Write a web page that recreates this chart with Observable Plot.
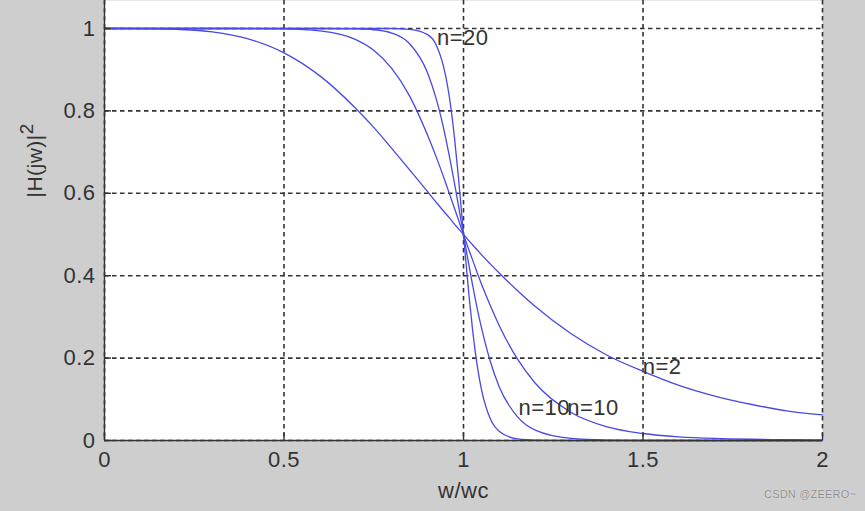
<!DOCTYPE html>
<html>
<head>
<meta charset="utf-8">
<script src="https://cdn.jsdelivr.net/npm/d3@7"></script>
<script src="https://cdn.jsdelivr.net/npm/@observablehq/plot@0.6"></script>
<style>
  html, body { margin: 0; padding: 0; background: #cecece; }
  #wrap { position: relative; width: 865px; height: 511px; overflow: hidden; }
  #wm { position: absolute; left: 764px; top: 488px; font: 11px "Liberation Sans", Arial, sans-serif;
        color: #8c8c8c; text-shadow: 0 0 1px #fff; letter-spacing: 0.2px; }
  svg text { letter-spacing: 0.5px; }
</style>
</head>
<body>
<div id="wrap"><div id="wm">CSDN @ZEERO~</div></div>
<script>
// w/wc sample positions
const xs  = [0, .1, .2, .3, .4, .5, .6, .7, .75, .8, .85, .9, .925, .95, .96, .975, .985, .99, 1, 1.01, 1.015, 1.025, 1.04, 1.05, 1.075, 1.1, 1.15, 1.2, 1.3, 1.4, 1.5, 1.6, 1.7, 1.8, 1.9, 2];
// |H(jw)|^2
const n2  = [1, .9999, .998, .992, .975, .941, .885, .806, .760, .709, .657, .604, .577, .551, .541, .525, .515, .510, .500, .490, .485, .475, .461, .451, .428, .406, .364, .325, .259, .207, .168, .134, .108, .088, .072, .062];
const n5  = [1, 1, 1, 1, .9999, .999, .994, .973, .947, .903, .836, .741, .686, .626, .601, .563, .538, .525, .500, .475, .463, .439, .403, .380, .327, .278, .198, .139, .068, .033, .017, .009, .005, .003, .002, .001];
const n10 = [1, 1, 1, 1, 1, 1, 1, .999, .997, .989, .963, .892, .826, .736, .693, .624, .575, .550, .500, .450, .426, .379, .313, .274, .191, .129, .058, .025, .005, .001, 0, 0, 0, 0, 0, 0];
const n20 = [1, 1, 1, 1, 1, 1, 1, 1, 1, 1, .998, .985, .958, .886, .837, .734, .647, .599, .500, .402, .355, .271, .172, .124, .052, .022, .004, .001, 0, 0, 0, 0, 0, 0, 0, 0];

const xTicks = [0, 0.5, 1, 1.5, 2];
const yTicks = [0, 0.2, 0.4, 0.6, 0.8, 1];

const labelText = ["n=20", "n=2", "n=10", "n=10"];
const labelX = [0.926, 1.499, 1.153, 1.289];
const labelY = [0.977, 0.178, 0.080, 0.080];

const series = {n2, n5, n10, n20};
const table = [];
for (const [name, vals] of Object.entries(series)) {
  xs.forEach((x, i) => table.push({n: name, x, y: vals[i]}));
}
const labels = labelText.map((t, i) => ({t, x: labelX[i], y: labelY[i]}));

const FONT = '"Liberation Sans", Arial, Helvetica, sans-serif';
const INK = "#333";
const BLUE = "#4848e4";

const chart = Plot.plot({
  width: 865,
  height: 511,
  marginLeft: 104,
  marginRight: 43,
  marginTop: 0,
  marginBottom: 71,
  style: {background: "#cecece", fontFamily: FONT, fontSize: "22px", color: INK},
  x: {domain: [0, 2], ticks: xTicks, tickFormat: d => String(d), tickSize: 0, tickPadding: 11, label: null},
  y: {domain: [0, 440 / 412], ticks: yTicks, tickFormat: d => String(d), tickSize: 0, tickPadding: 9, label: null},
  marks: [
    Plot.frame({fill: "white", stroke: "none"}),
    Plot.ruleX(xTicks, {x: d => d, stroke: "#333", strokeWidth: 1.6, strokeDasharray: "4.5,3.5"}),
    Plot.ruleY(yTicks, {y: d => d, stroke: "#333", strokeWidth: 1.6, strokeDasharray: "4.5,3.5"}),
    Plot.line(table, {x: "x", y: "y", z: "n", stroke: BLUE, strokeWidth: 1.3, curve: "monotone-x"}),
    Plot.ruleX([0], {stroke: INK, strokeWidth: 1.4}),
    Plot.ruleY([0], {stroke: INK, strokeWidth: 1.4}),
    Plot.tickX(xTicks, {x: d => d, insetTop: 433, stroke: INK, strokeWidth: 1.4}),
    Plot.tickY(yTicks, {y: d => d, insetRight: 711, stroke: INK, strokeWidth: 1.4}),
    Plot.text(labels, {x: "x", y: "y", text: "t", textAnchor: "start", lineAnchor: "middle", fill: INK, fontSize: 22}),
    Plot.text(["w/wc"], {frameAnchor: "bottom", dy: 50, lineAnchor: "middle", fill: INK, fontSize: 22}),
    Plot.text(["|H(jw)|"], {x: 0, y: 0.68, rotate: -90, dx: -69, lineAnchor: "middle", textAnchor: "middle", fill: INK, fontSize: 21})
  ]
});

// superscript 2 on the y label
chart.querySelectorAll("text").forEach(t => {
  if (t.textContent === "|H(jw)|") {
    const sp = document.createElementNS("http://www.w3.org/2000/svg", "tspan");
    sp.setAttribute("dy", "-0.5em");
    sp.setAttribute("font-size", "19");
    sp.textContent = "2";
    t.appendChild(sp);
  }
});

document.getElementById("wrap").prepend(chart);
</script>
</body>
</html>
